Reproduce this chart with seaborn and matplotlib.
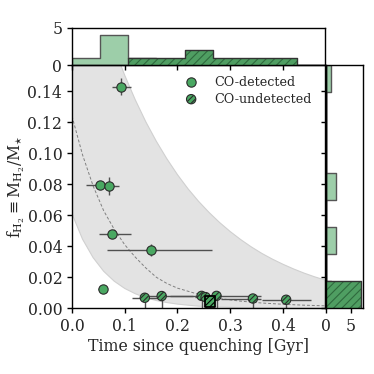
import numpy as np
import seaborn as sns
import matplotlib.pyplot as plt

sns.set_style("ticks")
plt.rcParams['font.family'] = ['DejaVu Serif']
plt.rcParams['mathtext.fontset'] = 'dejavuserif'
plt.rcParams['font.size'] = 11.3
plt.rcParams['hatch.linewidth'] = 0.8

# CO-detected galaxies
det_t = [0.0933, 0.0533, 0.071, 0.0755, 0.150, 0.058]
det_f = [0.143, 0.0795, 0.079, 0.048, 0.0378, 0.0123]
det_t_lo = [0.018, 0.027, 0.010, 0.025, 0.083, 0.008]
det_t_hi = [0.018, 0.012, 0.019, 0.037, 0.116, 0.008]
det_f_err = [0.0055, 0.002, 0.006, 0.001, 0.004, 0.001]

# CO-undetected galaxies (upper limits)
und_t = [0.138, 0.170, 0.2457, 0.2533, 0.274, 0.343, 0.406]
und_f = [0.0068, 0.0079, 0.0080, 0.0072, 0.0080, 0.0063, 0.0055]
und_t_lo = [0.024, 0.035, 0.060, 0.020, 0.040, 0.060, 0.046]
und_t_hi = [0.030, 0.060, 0.030, 0.020, 0.084, 0.015, 0.048]

# stacked / special object
sq_t = [0.2617]
sq_f = [0.0043]

# depletion envelope
curve_t = [0.00, 0.02, 0.04, 0.06, 0.08, 0.10, 0.12, 0.14, 0.16, 0.18, 0.20, 0.22, 0.24,
           0.26, 0.28, 0.30, 0.32, 0.34, 0.36, 0.38, 0.40, 0.42, 0.44, 0.46, 0.48]
upper_f = [0.262, 0.2345, 0.2098, 0.1877, 0.1680, 0.1503, 0.1345, 0.1203, 0.1077, 0.0964,
           0.0862, 0.0771, 0.0690, 0.0618, 0.0553, 0.0495, 0.0443, 0.0396, 0.0354, 0.0317,
           0.0284, 0.0254, 0.0227, 0.0203, 0.0182]
lower_f = [0.0610, 0.0446, 0.0327, 0.0239, 0.0175, 0.0128, 0.0094, 0.0068, 0.0050, 0.0037,
           0.0027, 0.0020, 0.0014, 0.0011, 0.0008, 0.0006, 0.0004, 0.0003, 0.0002, 0.0002,
           0.0001, 0.0001, 0.0001, 0.0, 0.0]
mid_f = [0.124, 0.099, 0.079, 0.063, 0.051, 0.041, 0.033, 0.026, 0.020, 0.016, 0.013, 0.011,
         0.009, 0.0075, 0.0063, 0.0054, 0.0046, 0.0040, 0.0034, 0.0030, 0.0026, 0.0023,
         0.0020, 0.0018, 0.0016]

XMAX, YMAX = 0.48, 0.157
green = '#4aa862'
hist_green = '#3c9f55'
dark = '#2b2b2b'
t_bins = np.linspace(0, XMAX, 10)
f_bins = np.linspace(0, YMAX, 10)

fig = plt.figure(figsize=(3.74, 3.74), dpi=100)
ax = fig.add_axes([0.1925, 0.1757, 0.677, 0.6505])
ax_top = fig.add_axes([0.1925, 0.8262, 0.677, 0.099], sharex=ax)
ax_right = fig.add_axes([0.8717, 0.1757, 0.098, 0.6505], sharey=ax)

# envelope + dashed track
ax.fill_between(curve_t, lower_f, upper_f, color='#e3e3e3', lw=0.8, edgecolor='#d0d0d0', zorder=0)
sns.lineplot(x=curve_t, y=mid_f, ax=ax, color='gray', lw=0.7, ls=(0, (3, 2)), zorder=1)

# error bars
ax.errorbar(det_t, det_f, xerr=[det_t_lo, det_t_hi], yerr=det_f_err, fmt='none',
            ecolor='#505050', elinewidth=1.0, zorder=2)
ax.errorbar(und_t, und_f, xerr=[und_t_lo, und_t_hi], yerr=[und_f, [0] * len(und_f)],
            fmt='none', ecolor='#505050', elinewidth=1.0, zorder=2)
ax.errorbar(sq_t, sq_f, yerr=[sq_f, [0]], fmt='none', ecolor='#505050', elinewidth=1.0, zorder=2)

sns.scatterplot(x=det_t, y=det_f, ax=ax, color=green, edgecolor=dark, linewidth=0.8,
                s=45, zorder=3, label='CO-detected')
sns.scatterplot(x=und_t, y=und_f, ax=ax, color=green, edgecolor=dark, linewidth=0.8,
                s=45, hatch='//////', zorder=3, label='CO-undetected')
ax.scatter(sq_t, sq_f, marker='s', s=60, color=green, edgecolor='black', linewidth=1.3,
           hatch='//////', zorder=4)

ax.set_xlim(0, XMAX)
ax.set_ylim(0, YMAX)
ax.set_xticks([0.0, 0.1, 0.2, 0.3, 0.4])
ax.set_yticks(np.arange(0, 0.141, 0.02))
ax.yaxis.set_major_formatter(plt.FormatStrFormatter('%.2f'))
ax.set_xlabel('Time since quenching [Gyr]', labelpad=2)
ax.set_ylabel(r'$\mathrm{f_{H_2} \equiv M_{H_2}/M_{\star}}$', labelpad=0)
ax.legend(loc='upper left', frameon=False, handletextpad=0.8, borderaxespad=0,
          borderpad=0.4, labelspacing=0.3, fontsize=9.2, bbox_to_anchor=(0.40, 0.977))


def marginal(data, axis, hatched):
    key = 'x' if axis is ax_top else 'y'
    bins = t_bins if axis is ax_top else f_bins
    if hatched:
        # hatched fill in a darker green, then a dark outline on top
        sns.histplot(**{key: data}, bins=bins, ax=axis, element='step', fill=True,
                     facecolor='#4f9e62', edgecolor='#2f6a3e', linewidth=0,
                     alpha=0.85, hatch='////')
        sns.histplot(**{key: data}, bins=bins, ax=axis, element='step', fill=False,
                     color='#333333', linewidth=1.0)
    else:
        sns.histplot(**{key: data}, bins=bins, ax=axis, element='step', fill=True,
                     color=hist_green, alpha=0.5, edgecolor='#555555', linewidth=1.0)


marginal(det_t, ax_top, False)
marginal(und_t, ax_top, True)
marginal(det_f, ax_right, False)
marginal(und_f, ax_right, True)

ax_top.set_ylim(0, 5)
ax_top.set_yticks([0, 5])
ax_top.set_ylabel('')
ax_top.set_xlabel('')
ax_top.tick_params(labelbottom=False)
ax_right.set_xlim(0, 7.35)
ax_right.set_xticks([0, 5])
ax_right.set_xlabel('')
ax_right.set_ylabel('')
ax_right.tick_params(labelleft=False)

ax.set_xlim(0, XMAX)
ax.set_ylim(0, YMAX)

for a in (ax, ax_top, ax_right):
    for s in a.spines.values():
        s.set_visible(True)
        s.set_linewidth(1.0)
        s.set_color('black')
    a.tick_params(direction='out', length=3.5, width=1.0, color='black')

fig.savefig('out.png', dpi=100)
